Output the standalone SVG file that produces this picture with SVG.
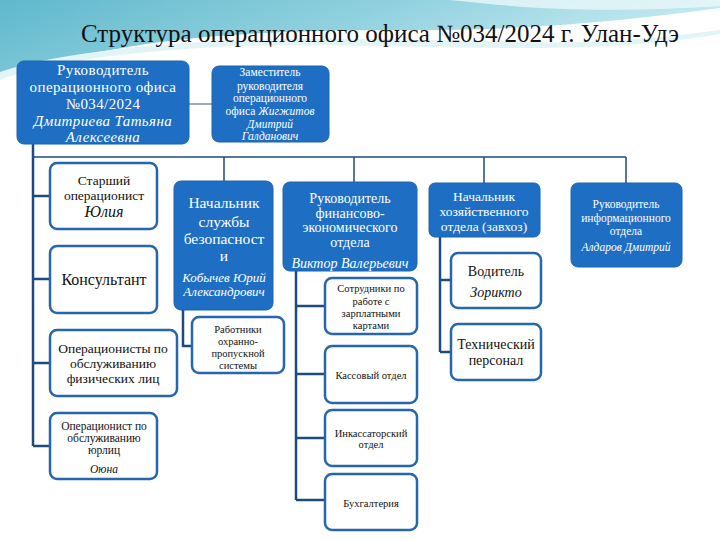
<svg xmlns="http://www.w3.org/2000/svg" width="720" height="540" viewBox="0 0 720 540">
<defs>
<linearGradient id="sky" x1="0" y1="0" x2="1" y2="0.3">
<stop offset="0" stop-color="#5fb8cc"/>
<stop offset="0.5" stop-color="#8fd0de"/>
<stop offset="1" stop-color="#c9ecf2"/>
</linearGradient>
<style>
.bn{fill:#1e6fc3;stroke:#1a64b0;stroke-width:1}
.wn{fill:#ffffff;stroke:#2566ac;stroke-width:2.5}
.tw{fill:#ffffff;font-family:"Liberation Serif",serif;text-anchor:middle}
.tb{fill:#111111;font-family:"Liberation Serif",serif;text-anchor:middle}
.it{font-style:italic}
.ln{fill:none;stroke:#1d4b7d;stroke-width:2.5}
.ln2{fill:none;stroke:#1d4b7d;stroke-width:1.5}
</style>
</defs>
<rect width="720" height="540" fill="#ffffff"/>
<path d="M0,0 H720 V8 C620,22 520,30 420,30 C320,30 220,32 140,45 C80,55 30,62 0,78 Z" fill="url(#sky)"/>
<path d="M0,72 C40,58 110,48 200,42 C300,36 420,40 520,42 C600,44 660,38 720,30 V34 C660,44 600,48 520,48 C420,48 300,42 200,48 C110,54 40,64 0,80 Z" fill="#e3f4f7"/>
<path d="M450,0 C520,8 600,14 720,6 V0 Z" fill="#eaf7fa" opacity="0.8"/>
<text x="380" y="42" font-family="Liberation Serif,serif" font-size="25" fill="#111111" text-anchor="middle">Структура операционного офиса №034/2024 г. Улан-Удэ</text>

<g id="connectors">
<line class="ln2" x1="180" y1="104" x2="212" y2="104" style="stroke:#3a5a7e;stroke-width:1"/>
<path class="ln2" d="M32,157 H626 M224,157 V181 M354,157 V182 M484,157 V183 M626,157 V183"/>
<path class="ln" d="M33,144 V446 M33,196 H50 M33,279 H50 M33,363 H50 M33,446 H50"/>
<path class="ln" d="M183,310 V346 H192"/>
<path class="ln" d="M296,271 V500 M296,306 H325 M296,374 H325 M296,438 H325 M296,500 H325"/>
<path class="ln" d="M440,237 V352 M440,280 H451 M440,352 H451"/>
</g>

<g id="head">
<rect class="bn" x="17" y="61" width="172" height="83" rx="7"/>
<text class="tw" font-size="15" letter-spacing="0.4"><tspan x="103" y="75">Руководитель</tspan><tspan x="103" y="92">операционного офиса</tspan><tspan x="103" y="109">№034/2024</tspan><tspan x="103" y="126" class="it">Дмитриева Татьяна</tspan><tspan x="103" y="142" class="it">Алексеевна</tspan></text>
</g>

<g id="deputy">
<rect class="bn" x="212" y="66" width="117" height="76" rx="7"/>
<text class="tw" font-size="11.5"><tspan x="270" y="76">Заместитель</tspan><tspan x="270" y="90">руководителя</tspan><tspan x="270" y="102">операционного</tspan><tspan x="270" y="115">офиса <tspan class="it">Жигжитов</tspan></tspan><tspan x="270" y="128" class="it">Дмитрий</tspan><tspan x="270" y="140" class="it">Галданович</tspan></text>
</g>

<g id="senior">
<rect class="wn" x="50" y="163" width="107" height="66" rx="7"/>
<text class="tb" font-size="13.5"><tspan x="104" y="185">Старший</tspan><tspan x="104" y="200">операционист</tspan><tspan x="104" y="217" class="it" font-size="16">Юлия</tspan></text>
</g>

<g id="consultant">
<rect class="wn" x="50" y="246" width="107" height="67" rx="7"/>
<text class="tb" font-size="16" x="104" y="285">Консультант</text>
</g>

<g id="phys">
<rect class="wn" x="50" y="330" width="127" height="66" rx="7"/>
<text class="tb" font-size="13.5"><tspan x="113" y="353">Операционисты по</tspan><tspan x="113" y="368">обслуживанию</tspan><tspan x="113" y="383">физических лиц</tspan></text>
</g>

<g id="legal">
<rect class="wn" x="50" y="413" width="107" height="66" rx="7"/>
<text class="tb" font-size="11.5"><tspan x="104" y="430">Операционист по</tspan><tspan x="104" y="442">обслуживанию</tspan><tspan x="104" y="454">юрлиц</tspan><tspan x="104" y="473" class="it">Оюна</tspan></text>
</g>

<g id="security">
<rect class="bn" x="174" y="181" width="99" height="129" rx="7"/>
<text class="tw" font-size="15.5"><tspan x="224" y="208">Начальник</tspan><tspan x="224" y="227">службы</tspan><tspan x="224" y="244">безопасност</tspan><tspan x="224" y="261">и</tspan></text>
<text class="tw it" font-size="13"><tspan x="224" y="282">Кобычев Юрий</tspan><tspan x="224" y="296">Александрович</tspan></text>
</g>

<g id="guards">
<rect class="wn" x="192" y="317" width="92" height="56" rx="7"/>
<text class="tb" font-size="10.5"><tspan x="238" y="333">Работники</tspan><tspan x="238" y="345">охранно-</tspan><tspan x="238" y="357">пропускной</tspan><tspan x="238" y="369">системы</tspan></text>
</g>

<g id="finance">
<rect class="bn" x="283" y="182" width="134" height="89" rx="7"/>
<text class="tw" font-size="14"><tspan x="350" y="203">Руководитель</tspan><tspan x="350" y="218">финансово-</tspan><tspan x="350" y="232">экономического</tspan><tspan x="350" y="247">отдела</tspan><tspan x="350" y="268" class="it">Виктор Валерьевич</tspan></text>
</g>

<g id="cards">
<rect class="wn" x="325" y="278" width="92" height="56" rx="7"/>
<text class="tb" font-size="10.5"><tspan x="371" y="292">Сотрудники по</tspan><tspan x="371" y="305">работе с</tspan><tspan x="371" y="317">зарплатными</tspan><tspan x="371" y="329">картами</tspan></text>
</g>

<g id="cash">
<rect class="wn" x="325" y="346" width="92" height="57" rx="7"/>
<text class="tb" font-size="10.5" x="371" y="379">Кассовый отдел</text>
</g>

<g id="collect">
<rect class="wn" x="325" y="410" width="92" height="56" rx="7"/>
<text class="tb" font-size="10.5"><tspan x="371" y="437">Инкассаторский</tspan><tspan x="371" y="448">отдел</tspan></text>
</g>

<g id="accounting">
<rect class="wn" x="325" y="474" width="92" height="56" rx="7"/>
<text class="tb" font-size="10.5" x="371" y="507">Бухгалтерия</text>
</g>

<g id="household">
<rect class="bn" x="429" y="183" width="111" height="54" rx="6"/>
<text class="tw" font-size="13.5"><tspan x="484" y="201">Начальник</tspan><tspan x="484" y="216">хозяйственного</tspan><tspan x="484" y="231">отдела (завхоз)</tspan></text>
</g>

<g id="driver">
<rect class="wn" x="451" y="253" width="90" height="55" rx="7"/>
<text class="tb" font-size="14"><tspan x="496" y="276">Водитель</tspan><tspan x="496" y="297" class="it">Зорикто</tspan></text>
</g>

<g id="tech">
<rect class="wn" x="451" y="324" width="90" height="56" rx="7"/>
<text class="tb" font-size="14"><tspan x="496" y="349">Технический</tspan><tspan x="496" y="365">персонал</tspan></text>
</g>

<g id="it">
<rect class="bn" x="571" y="183" width="111" height="84" rx="7"/>
<text class="tw" font-size="11.5"><tspan x="626" y="208">Руководитель</tspan><tspan x="626" y="222">информационного</tspan><tspan x="626" y="235">отдела</tspan><tspan x="626" y="251" class="it">Алдаров Дмитрий</tspan></text>
</g>
</svg>
